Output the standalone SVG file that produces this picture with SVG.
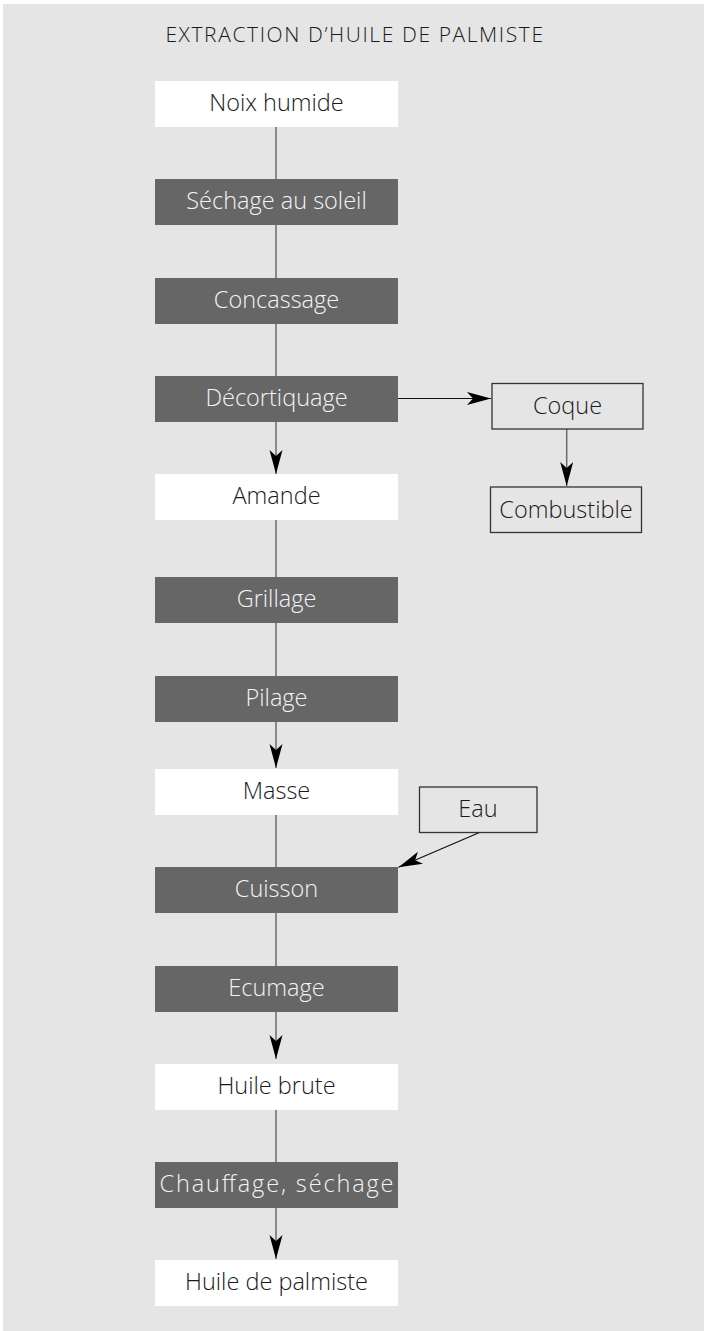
<svg xmlns="http://www.w3.org/2000/svg" width="704" height="1331" viewBox="0 0 704 1331">
  <style>
    .t { font-family: "Open Sans", "Liberation Sans", sans-serif; font-weight: 300; font-size: 23.5px; text-anchor: middle; }
    .dark rect { fill: #666666; }
    .dark text { fill: #f4f4f4; }
    .light rect { fill: #ffffff; }
    .light text { fill: #1a1a1a; }
    .side rect { fill: none; stroke: #333333; stroke-width: 1.3; }
    .side text { fill: #1a1a1a; }
    .g { stroke: #6a6a6a; stroke-width: 1.5; fill: none; }
    .k { stroke: #111111; stroke-width: 1.2; fill: none; }
    .title { font-family: "Open Sans", "Liberation Sans", sans-serif; font-weight: 300; font-size: 21px; letter-spacing: 1.6px; text-anchor: middle; fill: #1a1a1a; }
  </style>
  <defs>
    <marker id="ah" markerUnits="userSpaceOnUse" markerWidth="26" markerHeight="14" refX="24" refY="6.5" orient="auto">
      <path d="M0,0 L24,6.5 L0,13 L6,6.5 Z" fill="#000000"/>
    </marker>
  </defs>
  <rect x="0" y="0" width="704" height="1331" fill="#ffffff"/>
  <rect x="3" y="4" width="701" height="1327" fill="#e5e5e5"/>
  <text class="title" x="355" y="42">EXTRACTION D’HUILE DE PALMISTE</text>

  <g id="connectors">
    <line class="g" x1="276" y1="127" x2="276" y2="179"/>
    <line class="g" x1="276" y1="225" x2="276" y2="278"/>
    <line class="g" x1="276" y1="324" x2="276" y2="376"/>
    <line class="g" x1="276" y1="422" x2="276" y2="474" marker-end="url(#ah)"/>
    <line class="g" x1="276" y1="520" x2="276" y2="577"/>
    <line class="g" x1="276" y1="623" x2="276" y2="676"/>
    <line class="g" x1="276" y1="722" x2="276" y2="768" marker-end="url(#ah)"/>
    <line class="g" x1="276" y1="815" x2="276" y2="867"/>
    <line class="g" x1="276" y1="913" x2="276" y2="966"/>
    <line class="g" x1="276" y1="1012" x2="276" y2="1059" marker-end="url(#ah)"/>
    <line class="g" x1="276" y1="1110" x2="276" y2="1162"/>
    <line class="g" x1="276" y1="1208" x2="276" y2="1259" marker-end="url(#ah)"/>
    <line class="k" x1="397" y1="398.5" x2="491" y2="398.5" marker-end="url(#ah)"/>
    <line class="g" x1="566.7" y1="429" x2="566.7" y2="486" marker-end="url(#ah)"/>
    <line class="k" x1="479.5" y1="832.5" x2="398.5" y2="867.3" marker-end="url(#ah)"/>
  </g>

  <g id="n1" class="light"><rect x="155" y="81" width="243" height="46"/><text class="t" x="276.5" y="111">Noix humide</text></g>
  <g id="n2" class="dark"><rect x="155" y="179" width="243" height="46"/><text class="t" x="276.5" y="209">Séchage au soleil</text></g>
  <g id="n3" class="dark"><rect x="155" y="278" width="243" height="46"/><text class="t" x="276.5" y="308">Concassage</text></g>
  <g id="n4" class="dark"><rect x="155" y="376" width="243" height="46"/><text class="t" x="276.5" y="406">Décortiquage</text></g>
  <g id="n5" class="light"><rect x="155" y="474" width="243" height="46"/><text class="t" x="276.5" y="504">Amande</text></g>
  <g id="n6" class="dark"><rect x="155" y="577" width="243" height="46"/><text class="t" x="276.5" y="607">Grillage</text></g>
  <g id="n7" class="dark"><rect x="155" y="676" width="243" height="46"/><text class="t" x="276.5" y="706">Pilage</text></g>
  <g id="n8" class="light"><rect x="155" y="769" width="243" height="46"/><text class="t" x="276.5" y="799">Masse</text></g>
  <g id="n9" class="dark"><rect x="155" y="867" width="243" height="46"/><text class="t" x="276.5" y="897">Cuisson</text></g>
  <g id="n10" class="dark"><rect x="155" y="966" width="243" height="46"/><text class="t" x="276.5" y="996">Ecumage</text></g>
  <g id="n11" class="light"><rect x="155" y="1064" width="243" height="46"/><text class="t" x="276.5" y="1094">Huile brute</text></g>
  <g id="n12" class="dark"><rect x="155" y="1162" width="243" height="46"/><text class="t" x="276.5" y="1192" textLength="234" lengthAdjust="spacing">Chauffage, séchage</text></g>
  <g id="n13" class="light"><rect x="155" y="1260" width="243" height="46"/><text class="t" x="276.5" y="1290">Huile de palmiste</text></g>

  <g id="coque" class="side"><rect x="492" y="383.5" width="151" height="45.5"/><text class="t" x="567.5" y="414">Coque</text></g>
  <g id="combustible" class="side"><rect x="490.5" y="487" width="151" height="45.5"/><text class="t" x="566" y="517.5">Combustible</text></g>
  <g id="eau" class="side"><rect x="419.5" y="787" width="117.5" height="45.5"/><text class="t" x="478" y="817">Eau</text></g>
</svg>
